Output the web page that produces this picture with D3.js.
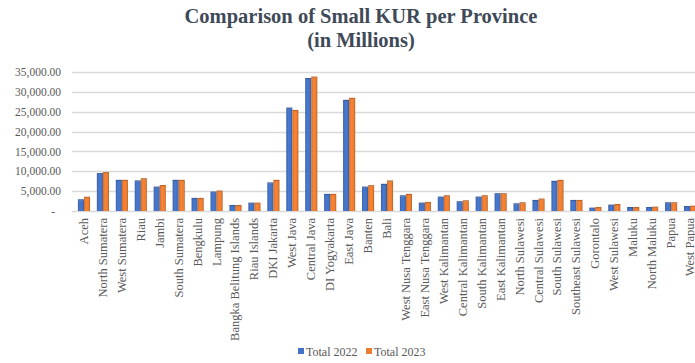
<!DOCTYPE html>
<html>
<head>
<meta charset="utf-8">
<script src="https://cdn.jsdelivr.net/npm/d3@7"></script>
<style>
  html, body { margin: 0; padding: 0; background: #fff; }
  svg { display: block; }
  text { font-family: "Liberation Serif", "Times New Roman", serif; }
</style>
</head>
<body>
<svg id="chart" width="695" height="363"></svg>
<script>
// Small KUR disbursement per province, in millions of rupiah
const provinces = [
  "Aceh", "North Sumatera", "West Sumatera", "Riau", "Jambi", "South Sumatera",
  "Bengkulu", "Lampung", "Bangka Belitung Islands", "Riau Islands", "DKI Jakarta",
  "West Java", "Central Java", "DI Yogyakarta", "East Java", "Banten", "Bali",
  "West Nusa Tenggara", "East Nusa Tenggara", "West Kalimantan", "Central Kalimantan",
  "South Kalimantan", "East Kalimantan", "North Sulawesi", "Central Sulawesi",
  "South Sulawesi", "Southeast Sulawesi", "Gorontalo", "West Sulawesi", "Maluku",
  "North Maluku", "Papua", "West Papua"
];
const total2022 = [
  2700, 9300, 7600, 7450, 5900, 7600,
  3050, 4650, 1270, 1860, 6950,
  25800, 33250, 4060, 27750, 5900, 6600,
  3700, 1860, 3380, 2200,
  3380, 4230, 1690, 2540,
  7350, 2540, 600, 1350, 760,
  760, 1950, 1000
];
const total2023 = [
  3350, 9550, 7600, 8000, 6300, 7600,
  3050, 4900, 1270, 1860, 7600,
  25200, 33600, 4060, 28250, 6250, 7450,
  4060, 2030, 3720, 2450,
  3720, 4230, 1950, 2880,
  7600, 2540, 760, 1520, 760,
  850, 1950, 1100
];
const seriesNames = ["Total 2022", "Total 2023"];
const seriesColors = ["#4472C4", "#ED7D31"];
const seriesDark = ["#2F528F", "#AE5A21"];
const yTicks = [0, 5000, 10000, 15000, 20000, 25000, 30000, 35000];

const svg = d3.select("#chart");
const W = 695;

const x = d3.scaleBand()
  .domain(provinces)
  .range([74.5, 699.5])
  .paddingInner(0.36)
  .paddingOuter(0.18);

const xs = d3.scaleBand()
  .domain(seriesNames)
  .range([0, x.bandwidth()]);

const y = d3.scaleLinear().domain([0, 35000]).range([211, 72]);

// Gradients giving the columns their shaded look
const defs = svg.append("defs");
seriesColors.forEach((c, i) => {
  const g = defs.append("linearGradient")
    .attr("id", "grad" + i)
    .attr("x1", "0").attr("x2", "1").attr("y1", "0").attr("y2", "0");
  g.append("stop").attr("offset", "0").attr("stop-color", d3.color(c).darker(0.4));
  g.append("stop").attr("offset", "0.35").attr("stop-color", d3.color(c).brighter(0.15));
  g.append("stop").attr("offset", "0.8").attr("stop-color", c);
  g.append("stop").attr("offset", "1").attr("stop-color", seriesDark[i]);
});

// Title
const title = svg.append("text")
  .attr("x", 361).attr("y", 23)
  .attr("text-anchor", "middle")
  .attr("fill", "#3F4A59")
  .attr("font-weight", "bold")
  .attr("font-size", 20.5);
title.append("tspan").attr("x", 361).attr("dy", 0).text("Comparison of Small KUR per Province");
title.append("tspan").attr("x", 361).attr("dy", 24).text("(in Millions)");

// Horizontal gridlines
svg.append("g")
  .selectAll("line")
  .data(yTicks)
  .join("line")
  .attr("x1", 72).attr("x2", W)
  .attr("y1", d => Math.round(y(d)) + 0.5)
  .attr("y2", d => Math.round(y(d)) + 0.5)
  .attr("stroke", "#D9D9D9")
  .attr("stroke-width", 1.3);

// Y axis labels
const yAxis = d3.axisLeft(y)
  .tickValues(yTicks)
  .tickSize(0)
  .tickPadding(0)
  .tickFormat(d => d === 0 ? "-" : d3.format(",.2f")(d));
const gy = svg.append("g").attr("transform", "translate(61,0)").call(yAxis);
gy.select(".domain").remove();
gy.selectAll("text")
  .attr("fill", "#595959")
  .attr("font-size", 11.5)
  .style("font-family", "Liberation Serif, serif");
gy.selectAll(".tick").filter(d => d === 0).select("text").attr("dx", -6);

// Columns
const rows = provinces.map((p, i) => ({ p, vals: [total2022[i], total2023[i]] }));
const groups = svg.append("g")
  .selectAll("g")
  .data(rows)
  .join("g")
  .attr("transform", d => `translate(${x(d.p)},0)`);

groups.selectAll("rect.front")
  .data(d => d.vals.map((v, k) => ({ v, k })))
  .join("rect")
  .attr("class", "front")
  .attr("x", d => xs(seriesNames[d.k]))
  .attr("y", d => y(d.v))
  .attr("width", xs.bandwidth())
  .attr("height", d => y(0) - y(d.v))
  .attr("fill", d => `url(#grad${d.k})`);

// Top edge of each column
groups.selectAll("rect.top")
  .data(d => d.vals.map((v, k) => ({ v, k })))
  .join("rect")
  .attr("class", "top")
  .attr("x", d => xs(seriesNames[d.k]))
  .attr("y", d => y(d.v) - 1)
  .attr("width", xs.bandwidth())
  .attr("height", 1.2)
  .attr("fill", d => d3.color(seriesColors[d.k]).darker(0.6));

// X axis labels (rotated)
const xAxis = d3.axisBottom(x).tickSize(0).tickPadding(0);
const gx = svg.append("g").attr("transform", "translate(0,215)").call(xAxis);
gx.select(".domain").remove();
gx.selectAll("text")
  .attr("fill", "#595959")
  .attr("font-size", 12.5)
  .style("font-family", "Liberation Serif, serif")
  .attr("text-anchor", "end")
  .attr("dy", "0.32em")
  .attr("transform", "rotate(-90)")
  .attr("x", -3)
  .attr("y", 0);

// Legend
const legend = svg.append("g").attr("transform", "translate(0,352)");
const legendX = [298, 366];
seriesNames.forEach((n, i) => {
  legend.append("rect")
    .attr("x", legendX[i]).attr("y", -4)
    .attr("width", 6).attr("height", 6)
    .attr("fill", seriesColors[i]);
  legend.append("text")
    .attr("x", legendX[i] + 8).attr("y", 0)
    .attr("dy", "0.32em")
    .attr("fill", "#595959")
    .attr("font-size", 12)
    .text(n);
});
</script>
</body>
</html>
